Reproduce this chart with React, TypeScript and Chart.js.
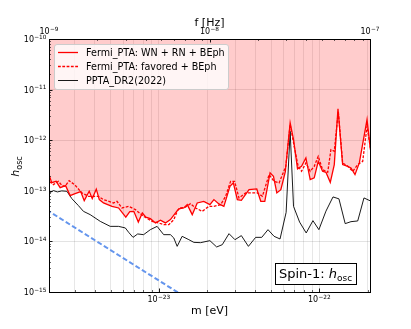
import React, { useEffect, useRef } from "react";
import { Chart, registerables } from "chart.js";

Chart.register(...registerables);

// ---- axis ranges ----
const mRange = [2.0678e-24, 2.0678e-22]; // m [eV]  (bottom axis)
const fRange = [1e-9, 1e-7]; // f [Hz]  (top axis)
const hRange = [1e-15, 1e-10]; // h_osc

// ---- data (log10 m [eV], log10 h_osc) ----
const fermiLogM = [-23.682, -23.668, -23.64, -23.615, -23.581, -23.553, -23.522, -23.487, -23.465, -23.434, -23.415, -23.39, -23.371, -23.345, -23.292, -23.251, -23.206, -23.181, -23.156, -23.128, -23.103, -23.081, -23.053, -23.021, -22.99, -22.959, -22.928, -22.896, -22.876, -22.845, -22.823, -22.792, -22.761, -22.72, -22.682, -22.657, -22.626, -22.595, -22.557, -22.536, -22.511, -22.486, -22.438, -22.39, -22.365, -22.34, -22.307, -22.286, -22.265, -22.24, -22.212, -22.182, -22.161, -22.136, -22.111, -22.084, -22.057, -22.032, -22.007, -21.98, -21.959, -21.932, -21.907, -21.884, -21.855, -21.823, -21.803, -21.778, -21.751, -21.703, -21.682];
const fermiLogH = [-12.7, -12.838, -12.812, -12.937, -12.898, -13.095, -13.056, -13.016, -13.194, -13.01, -13.155, -12.967, -13.174, -13.24, -13.307, -13.339, -13.521, -13.412, -13.406, -13.619, -13.438, -13.521, -13.55, -13.635, -13.58, -13.635, -13.57, -13.438, -13.358, -13.339, -13.273, -13.471, -13.24, -13.208, -13.273, -13.174, -13.259, -13.307, -12.911, -12.844, -13.174, -13.188, -12.977, -12.963, -13.208, -13.208, -12.646, -12.714, -13.042, -12.977, -12.621, -11.657, -11.988, -12.567, -12.516, -12.35, -12.779, -12.745, -12.417, -12.615, -12.634, -12.832, -12.482, -11.381, -12.482, -12.516, -12.547, -12.68, -12.449, -11.592, -12.186];

const favLogM = [-23.682, -23.657, -23.626, -23.603, -23.584, -23.559, -23.522, -23.48, -23.438, -23.376, -23.345, -23.282, -23.261, -23.23, -23.188, -23.146, -23.095, -23.042, -23.001, -22.97, -22.938, -22.907, -22.884, -22.865, -22.834, -22.803, -22.771, -22.73, -22.688, -22.657, -22.615, -22.584, -22.553, -22.528, -22.501, -22.459, -22.417, -22.386, -22.355, -22.313, -22.282, -22.251, -22.209, -22.182, -22.157, -22.132, -22.111, -22.084, -22.057, -22.032, -22.007, -21.98, -21.948, -21.928, -21.907, -21.882, -21.855, -21.823, -21.792, -21.761, -21.73, -21.703, -21.682];
const favLogH = [-12.818, -12.878, -12.812, -12.898, -12.911, -12.799, -12.888, -13.042, -13.109, -13.109, -13.174, -13.24, -13.208, -13.339, -13.307, -13.372, -13.505, -13.604, -13.635, -13.669, -13.669, -13.57, -13.392, -13.339, -13.323, -13.254, -13.339, -13.406, -13.307, -13.307, -13.273, -13.109, -12.812, -12.812, -13.141, -13.042, -13.042, -13.042, -13.109, -12.68, -12.812, -12.844, -12.516, -11.691, -12.12, -12.516, -12.615, -12.449, -12.615, -12.516, -12.318, -12.581, -12.634, -12.186, -12.219, -11.428, -12.449, -12.516, -12.615, -12.482, -12.417, -11.725, -12.152];

const pptaLogM = [-23.682, -23.657, -23.632, -23.605, -23.573, -23.542, -23.501, -23.47, -23.428, -23.365, -23.303, -23.251, -23.209, -23.188, -23.161, -23.132, -23.095, -23.053, -23.011, -22.97, -22.928, -22.907, -22.886, -22.855, -22.813, -22.782, -22.74, -22.682, -22.64, -22.605, -22.563, -22.526, -22.486, -22.442, -22.397, -22.359, -22.32, -22.282, -22.245, -22.207, -22.182, -22.161, -22.123, -22.082, -22.04, -22.003, -21.959, -21.915, -21.878, -21.839, -21.803, -21.761, -21.722, -21.682];
const pptaLogH = [-13.042, -12.996, -13.022, -13.002, -13.01, -13.155, -13.293, -13.406, -13.471, -13.604, -13.703, -13.703, -13.734, -13.821, -13.92, -13.853, -13.867, -13.768, -13.703, -13.867, -13.867, -13.932, -14.098, -13.9, -13.966, -14.019, -14.025, -13.985, -14.11, -14.065, -13.847, -13.966, -13.886, -14.098, -13.92, -13.92, -13.768, -13.9, -13.952, -13.426, -11.824, -13.307, -13.619, -13.833, -13.59, -13.768, -13.402, -13.121, -13.159, -13.649, -13.61, -13.596, -13.141, -13.2];

const blueM = [2.0e-24, 1.6e-23];
const blueH = [4.2e-14, 6.6e-16];

const legendLabels = ["Fermi_PTA: WN + RN + BEph", "Fermi_PTA: favored + BEph", "PPTA_DR2(2022)"];
const boxText = "Spin-1: ";

const FONT = '"DejaVu Sans", "Liberation Sans", sans-serif';
const RED = "#ff0000";
const BLUE = "#6495ed";

const isDecade = (v: number) => Math.abs(Math.log10(v) - Math.round(Math.log10(v))) < 1e-6;
const logTicks = (min: number, max: number) => {
  const out: number[] = [];
  for (let e = Math.floor(Math.log10(min)); e <= Math.ceil(Math.log10(max)); e++) {
    for (let k = 1; k <= 9; k++) {
      const v = k * Math.pow(10, e);
      if (v >= min * (1 - 1e-9) && v <= max * (1 + 1e-9)) out.push(v);
    }
  }
  return out;
};
const pts = (lm: number[], lh: number[]) => lm.map((x, i) => ({ x: Math.pow(10, x), y: Math.pow(10, lh[i]) }));

// draw "10^e" like matplotlib mathtext
const BASE = 8;
const SUPS = 5.8;
const RAISE = 3.2;
const powParts = (v: number) => {
  const e = Math.round(Math.log10(v));
  return { base: "10", exp: "\u2212" + String(Math.abs(e)) };
};
const measurePow = (ctx: CanvasRenderingContext2D, v: number) => {
  const { base, exp } = powParts(v);
  ctx.font = `${BASE}px ${FONT}`;
  const wb = ctx.measureText(base).width;
  ctx.font = `${SUPS}px ${FONT}`;
  const we = ctx.measureText(exp).width;
  return { wb, we, w: wb + we + 0.3 };
};
const drawPow = (ctx: CanvasRenderingContext2D, v: number, x: number, baseline: number) => {
  const { base, exp } = powParts(v);
  const m = measurePow(ctx, v);
  ctx.textAlign = "left";
  ctx.textBaseline = "alphabetic";
  ctx.font = `${BASE}px ${FONT}`;
  ctx.fillText(base, x, baseline);
  ctx.font = `${SUPS}px ${FONT}`;
  ctx.fillText(exp, x + m.wb + 0.3, baseline - RAISE);
};

const overlay = {
  id: "overlay",
  afterDraw(chart: any) {
    const { ctx, chartArea: a, scales } = chart;
    ctx.save();
    // inward ticks
    ctx.strokeStyle = "#000";
    const drawTick = (x1: number, y1: number, x2: number, y2: number, w: number) => {
      ctx.lineWidth = w;
      ctx.beginPath();
      ctx.moveTo(x1, y1);
      ctx.lineTo(x2, y2);
      ctx.stroke();
    };
    for (const v of logTicks(mRange[0], mRange[1])) {
      const px = Math.round(scales.x.getPixelForValue(v)) + 0.5;
      const maj = isDecade(v);
      drawTick(px, a.bottom, px, a.bottom - (maj ? 3.5 : 2), maj ? 0.9 : 0.6);
    }
    for (const v of logTicks(fRange[0], fRange[1])) {
      const px = Math.round(scales.x2.getPixelForValue(v)) + 0.5;
      const maj = isDecade(v);
      drawTick(px, a.top, px, a.top + (maj ? 3.5 : 2), maj ? 0.9 : 0.6);
    }
    for (const v of logTicks(hRange[0], hRange[1])) {
      const py = Math.round(scales.y.getPixelForValue(v)) + 0.5;
      const maj = isDecade(v);
      drawTick(a.left, py, a.left + (maj ? 3.5 : 2), py, maj ? 0.9 : 0.6);
    }
    // frame
    ctx.lineWidth = 1;
    ctx.strokeStyle = "#000";
    ctx.strokeRect(Math.round(a.left) + 0.5, Math.round(a.top) + 0.5, Math.round(a.right - a.left), Math.round(a.bottom - a.top));

    // tick labels (decades), positioned by the chart's scales
    ctx.fillStyle = "#000";
    for (const v of logTicks(mRange[0], mRange[1]).filter(isDecade)) {
      const px = scales.x.getPixelForValue(v);
      const m = measurePow(ctx, v);
      drawPow(ctx, v, px - m.w / 2, a.bottom + 10);
    }
    for (const v of logTicks(fRange[0], fRange[1]).filter(isDecade)) {
      const px = scales.x2.getPixelForValue(v);
      const m = measurePow(ctx, v);
      drawPow(ctx, v, px - m.w / 2, a.top - 5);
    }
    for (const v of logTicks(hRange[0], hRange[1]).filter(isDecade)) {
      const py = scales.y.getPixelForValue(v);
      const m = measurePow(ctx, v);
      drawPow(ctx, v, a.left - 2.5 - m.w, py + 3);
    }

    // legend
    const lx = 54.5, ly = 44.5, lw = 174, lh = 45;
    ctx.fillStyle = "rgba(255,255,255,0.8)";
    ctx.strokeStyle = "#cccccc";
    ctx.lineWidth = 1;
    ctx.beginPath();
    (ctx as any).roundRect(lx, ly, lw, lh, 2.5);
    ctx.fill();
    ctx.stroke();
    const rows = [52.5, 66.5, 80.5];
    const styles = [
      { c: RED, w: 1.3, d: [] as number[] },
      { c: RED, w: 1.3, d: [2.8, 1.5] },
      { c: "#000", w: 0.9, d: [] as number[] },
    ];
    rows.forEach((y, i) => {
      ctx.strokeStyle = styles[i].c;
      ctx.lineWidth = styles[i].w;
      ctx.setLineDash(styles[i].d);
      ctx.beginPath();
      ctx.moveTo(58, y);
      ctx.lineTo(78, y);
      ctx.stroke();
      ctx.setLineDash([]);
      ctx.fillStyle = "#000";
      ctx.font = `9.6px ${FONT}`;
      ctx.textBaseline = "middle";
      ctx.textAlign = "left";
      ctx.fillText(legendLabels[i], 86, y + 0.5);
    });

    // Spin-1 box
    ctx.fillStyle = "#fff";
    ctx.fillRect(275.5, 263.5, 81, 21);
    ctx.strokeStyle = "#000";
    ctx.lineWidth = 1;
    ctx.strokeRect(275.5, 263.5, 81, 21);
    ctx.fillStyle = "#000";
    ctx.textBaseline = "alphabetic";
    ctx.textAlign = "left";
    ctx.font = `13px ${FONT}`;
    let tx = 279;
    ctx.fillText(boxText, tx, 277.5);
    tx += ctx.measureText(boxText).width;
    ctx.font = `italic 13px ${FONT}`;
    ctx.fillText("h", tx, 277.5);
    tx += ctx.measureText("h").width;
    ctx.font = `9px ${FONT}`;
    ctx.fillText("osc", tx, 280.5);

    // axis titles
    ctx.font = `11px ${FONT}`;
    ctx.textAlign = "center";
    ctx.fillText("m [eV]", (a.left + a.right) / 2, 314);
    ctx.fillText("f [Hz]", (a.left + a.right) / 2, 25.5);

    // y title (rotated)
    ctx.save();
    ctx.translate(19, (a.top + a.bottom) / 2 + 1);
    ctx.rotate(-Math.PI / 2);
    ctx.textAlign = "left";
    ctx.font = `italic 11px ${FONT}`;
    const wh = ctx.measureText("h").width;
    ctx.font = `8px ${FONT}`;
    const wo = ctx.measureText("osc").width;
    const start = -(wh + wo) / 2;
    ctx.font = `italic 11px ${FONT}`;
    ctx.fillText("h", start, 0);
    ctx.font = `8px ${FONT}`;
    ctx.fillText("osc", start + wh, 2.5);
    ctx.restore();

    ctx.restore();
  },
};

export default function App() {
  const ref = useRef<HTMLCanvasElement>(null);
  useEffect(() => {
    const chart = new Chart(ref.current as HTMLCanvasElement, {
      type: "line",
      data: {
        datasets: [
          {
            label: legendLabels[0],
            data: pts(fermiLogM, fermiLogH),
            borderColor: RED,
            borderWidth: 1.3,
            backgroundColor: "rgba(255,0,0,0.2)",
            fill: "end",
            pointRadius: 0,
            tension: 0,
            xAxisID: "x",
            yAxisID: "y",
          },
          {
            label: legendLabels[1],
            data: pts(favLogM, favLogH),
            borderColor: RED,
            borderWidth: 1.3,
            borderDash: [2.8, 1.5],
            fill: false,
            pointRadius: 0,
            tension: 0,
            xAxisID: "x",
            yAxisID: "y",
          },
          {
            label: legendLabels[2],
            data: pts(pptaLogM, pptaLogH),
            borderColor: "#000",
            borderWidth: 0.9,
            fill: false,
            pointRadius: 0,
            tension: 0,
            xAxisID: "x",
            yAxisID: "y",
          },
          {
            label: "dark photon",
            data: blueM.map((m, i) => ({ x: m, y: blueH[i] })),
            borderColor: BLUE,
            borderWidth: 2,
            borderDash: [5, 2.5],
            fill: false,
            pointRadius: 0,
            xAxisID: "x",
            yAxisID: "y",
          },
        ],
      },
      options: {
        responsive: false,
        animation: false,
        events: [],
        layout: { padding: { left: 0, right: 41, top: 0, bottom: 0 } },
        plugins: { legend: { display: false }, tooltip: { enabled: false } },
        scales: {
          x: {
            type: "logarithmic",
            position: "bottom",
            min: mRange[0],
            max: mRange[1],
            afterBuildTicks: (s: any) => {
              s.ticks = logTicks(mRange[0], mRange[1]).map((v) => ({ value: v }));
            },
            afterFit: (s: any) => {
              s.height = 37;
            },
            ticks: { display: false, autoSkip: false },
            grid: { color: "rgba(0,0,0,0.12)", lineWidth: 0.8, drawTicks: false },
            border: { display: false },
          },
          x2: {
            type: "logarithmic",
            position: "top",
            min: fRange[0],
            max: fRange[1],
            afterBuildTicks: (s: any) => {
              s.ticks = logTicks(fRange[0], fRange[1]).map((v) => ({ value: v }));
            },
            afterFit: (s: any) => {
              s.height = 39;
            },
            ticks: { display: false, autoSkip: false },
            grid: { display: false, drawTicks: false },
            border: { display: false },
          },
          y: {
            type: "logarithmic",
            position: "left",
            min: hRange[0],
            max: hRange[1],
            afterBuildTicks: (s: any) => {
              s.ticks = logTicks(hRange[0], hRange[1]).map((v) => ({ value: v }));
            },
            afterFit: (s: any) => {
              s.width = 49;
            },
            ticks: { display: false, autoSkip: false },
            grid: {
              color: (c: any) => (c.tick && isDecade(c.tick.value) ? "rgba(0,0,0,0.14)" : "rgba(0,0,0,0)"),
              lineWidth: 0.8,
              drawTicks: false,
            },
            border: { display: false },
          },
        },
      },
      plugins: [overlay],
    } as any);
    return () => chart.destroy();
  }, []);
  return (
    <div style={{ position: "fixed", left: 0, top: 0, width: 411, height: 329, background: "#fff" }}>
      <canvas ref={ref} width={411} height={329} style={{ display: "block", width: 411, height: 329 }} />
    </div>
  );
}
